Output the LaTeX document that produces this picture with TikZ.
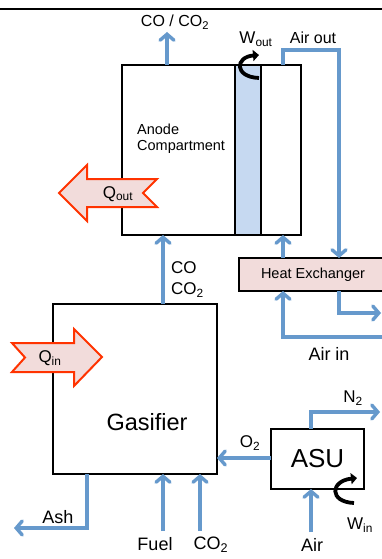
\documentclass[tikz,border=0pt]{standalone}
\usepackage{fontspec}
\setmainfont{Liberation Sans}
\usetikzlibrary{arrows.meta,calc}
\definecolor{flowblue}{RGB}{102,153,204}
\definecolor{heatred}{RGB}{255,51,0}
\definecolor{heatpink}{RGB}{242,220,219}
\definecolor{membblue}{RGB}{198,217,241}
\newcommand{\fs}[1]{\fontsize{#1}{#1}\selectfont}
\begin{document}
\begin{tikzpicture}[x=1pt,y=-1pt,
  box/.style={draw=black, line width=2pt, inner sep=0pt, outer sep=0pt},
  flow/.style={draw=flowblue, line width=3.4pt, -{Straight Barb[length=6pt,width=14pt,line cap=round]}},
  work/.style={draw=black, line width=3.8pt, -{Triangle[length=6pt,width=11pt]}},
  heat/.style={draw=heatred, fill=heatpink, line width=2pt, line join=miter},
  lbl/.style={inner sep=0pt, font=\fs{17}},
  small/.style={inner sep=0pt, font=\fs{16}},
  big/.style={inner sep=0pt, font=\fs{18}}]
\useasboundingbox (0,0) rectangle (382,559);
\clip (0,0) rectangle (382,559);
\fill[white] (0,0) rectangle (382,559);
\draw[line width=2.5pt] (0,9) -- (382,9);

% fuel cell
\node[box, minimum width=113, minimum height=170] (anode) at (178.5,150) {};
\node[box, fill=membblue, minimum width=26, minimum height=170] (memb) at (248,150) {};
\node[box, minimum width=40, minimum height=170] (cathode) at (281,150) {};
\node[inner sep=0pt, anchor=north west, align=left, font=\fontsize{14.5}{16}\selectfont] (anodetxt) at (137,123.5) {Anode\\Compartment};

% heat exchanger
\node[box, fill=heatpink, minimum width=148, minimum height=33, font=\fs{14.5}] (hx) at (313,274.5) {Heat Exchanger};

% gasifier
\node[box, minimum width=164, minimum height=170] (gas) at (135,389) {};
\node[inner sep=0pt, font=\fs{23.5}] (gastxt) at (147,422) {Gasifier};

% ASU
\node[box, minimum width=93, minimum height=60, font=\fs{26}] (asu) at (317.5,459) {ASU};

% coordinates
\coordinate (cotop) at (167,32);
\coordinate (ao) at (339,50);
\coordinate (hxout) at (381,313);
\coordinate (airin) at (390,337);
\coordinate (cox) at (163,0);
\coordinate (fuelin) at (163,531);
\coordinate (co2in) at (200,531);
\coordinate (ashx) at (87,0);
\coordinate (ashout) at (14,528);
\coordinate (asux) at (311,0);
\coordinate (n2out) at (380,412);
\coordinate (airasu) at (311,532);

% flows
\draw[flow] (anode.north -| cotop) -- (cotop);
\draw[flow] ([xshift=2]cathode.north) |- (ao) -- (ao |- hx.north);
\draw[flow] ([xshift=2]hx.north -| cathode.south) -- ([xshift=2]cathode.south);
\draw[flow] (hx.south -| ao) |- (hxout);
\draw[flow] (airin) -| ([xshift=2]hx.south -| cathode.south);
\draw[flow] (gas.north -| cox) -- (anode.south -| cox);
\draw[flow] (fuelin) -- (fuelin |- gas.south);
\draw[flow] (co2in) -- (co2in |- gas.south);
\draw[flow] (gas.south -| ashx) |- (ashout);
\draw[flow] ([yshift=1]asu.west) -- ([yshift=1]asu.west -| gas.east);
\draw[flow] (asu.north -| asux) |- (n2out);
\draw[flow] (airasu) -- (airasu |- asu.south);

% work arrows
\draw[work] (259,78) .. controls (234,77) and (235,57) .. (259,55);
\draw[work] (354,503) .. controls (329,502) and (330,481) .. (357,478);

% heat arrows
\draw[heat] (59,193) -- (87,165) -- (87,179) -- (157,179) -- (143,193) -- (157,207) -- (87,207) -- (87,221) -- cycle;
\draw[heat] (102,357) -- (74,329) -- (74,343) -- (12,343) -- (25,357.5) -- (12,372) -- (74,372) -- (74,386) -- cycle;

% labels
\node[small] (lco) at (175,22) {CO / CO\textsubscript{2}};
\node[lbl] (lwout) at (256,39) {W\textsubscript{out}};
\node[small] (lairout) at (313,38) {Air out};
\node[lbl] (lqout) at (118,194) {Q\textsubscript{out}};
\node[lbl, anchor=west] (lco1) at (171,268) {CO};
\node[lbl, anchor=west] (lco2) at (171,290) {CO\textsubscript{2}};
\node[big] (lairin) at (329,354) {Air in};
\node[lbl] (lqin) at (50,358) {Q\textsubscript{in}};
\node[lbl] (lo2) at (250,443) {O\textsubscript{2}};
\node[lbl] (ln2) at (353,398) {N\textsubscript{2}};
\node[lbl] (lwin) at (360,525) {W\textsubscript{in}};
\node[big] (lash) at (58,517) {Ash};
\node[big] (lfuel) at (155,544) {Fuel};
\node[big] (lco2in) at (211,545) {CO\textsubscript{2}};
\node[big] (lair) at (312,545) {Air};
\end{tikzpicture}
\end{document}
